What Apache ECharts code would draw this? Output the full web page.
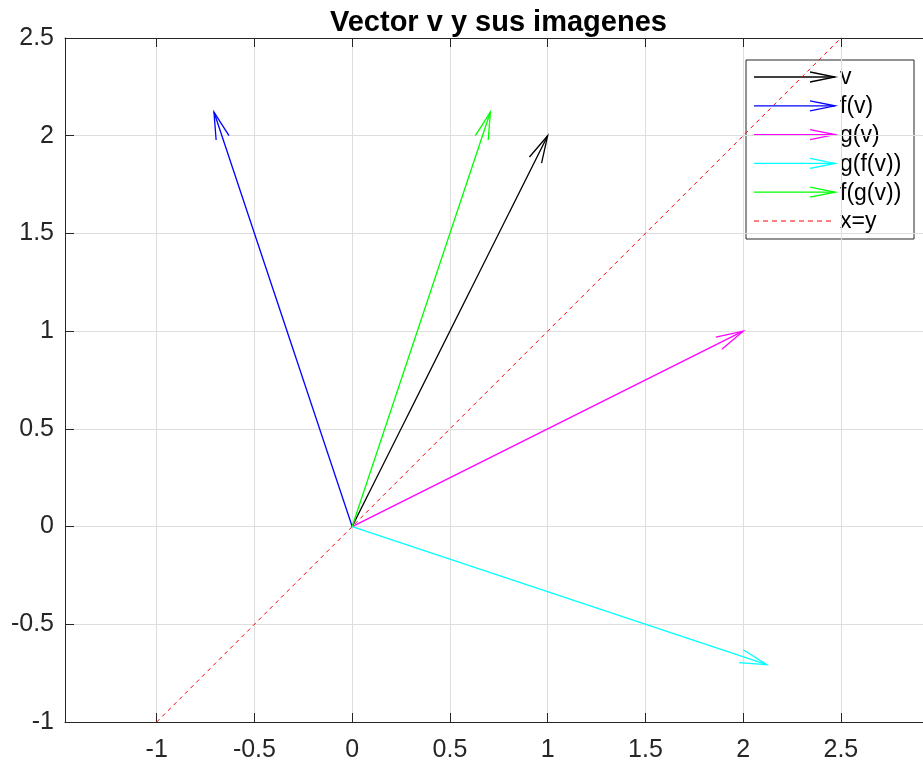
<!DOCTYPE html>
<html><head><meta charset="utf-8">
<script src="https://cdn.jsdelivr.net/npm/echarts@6/dist/echarts.min.js"></script>
<style>html,body{margin:0;padding:0;background:#fff}#c{width:923px;height:763px}</style>
</head><body><div id="c"></div>
<script>
// ---- data ----
const titleText = 'Vector v y sus imagenes';
const vectorNames = ['v', 'f(v)', 'g(v)', 'g(f(v))', 'f(g(v))'];
const vectorX = [1, -0.707, 2, 2.121, 0.707];
const vectorY = [2, 2.121, 1, -0.707, 2.121];
const diagName = 'x=y';
const diagX = [-1, 3];
const diagY = [-1, 3];
const xTicks = [-1, -0.5, 0, 0.5, 1, 1.5, 2, 2.5];
const yTicks = [-1, -0.5, 0, 0.5, 1, 1.5, 2, 2.5];

// ---- styles ----
const vectorColors = ['#000000', '#0000ff', '#ff00ff', '#00ffff', '#00ff00'];
const diagColor = '#ff0000';
const FONT = '"Liberation Sans", Arial, Helvetica, sans-serif';
const axisColor = '#262626';
const gridColor = '#dedede';

const chart = echarts.init(document.getElementById('c'), null, {renderer: 'canvas'});

function arrowItem(color) {
  return function (params, api) {
    const o = api.coord([0, 0]);
    const t = api.coord([api.value(0), api.value(1)]);
    const dx = o[0] - t[0], dy = o[1] - t[1];
    const L = Math.hypot(dx, dy);
    const ux = dx / L, uy = dy / L;
    const hl = 28, ang = 14 * Math.PI / 180;
    const c = Math.cos(ang), s = Math.sin(ang);
    const b1 = [t[0] + hl * (ux * c - uy * s), t[1] + hl * (ux * s + uy * c)];
    const b2 = [t[0] + hl * (ux * c + uy * s), t[1] + hl * (-ux * s + uy * c)];
    return {
      type: 'group',
      children: [
        {type: 'line', shape: {x1: o[0], y1: o[1], x2: t[0], y2: t[1]}, style: {stroke: color, lineWidth: 1.3}},
        {type: 'polyline', shape: {points: [b1, t, b2]}, style: {stroke: color, fill: null, lineWidth: 1.3}}
      ]
    };
  };
}

const series = [{
  name: diagName,
  type: 'line',
  data: diagX.map((x, i) => [x, diagY[i]]),
  showSymbol: false,
  clip: true,
  silent: true,
  lineStyle: {color: diagColor, width: 1, type: [4, 4]},
  z: 2
}];
vectorNames.forEach((n, i) => {
  series.push({
    name: n,
    type: 'custom',
    data: [[vectorX[i], vectorY[i]]],
    renderItem: arrowItem(vectorColors[i]),
    silent: true,
    z: 3
  });
});

// legend built as graphic (open-arrow icons)
const legX = 746, legY = 60, legW = 168, legH = 179, rowH = 28.8, row0 = 77;
const legendEls = [{
  type: 'rect', shape: {x: legX, y: legY, width: legW, height: legH},
  style: {fill: '#ffffff', stroke: axisColor, lineWidth: 1}
}];
const legNames = vectorNames.concat([diagName]);
legNames.forEach((n, i) => {
  const y = row0 + i * rowH;
  if (i < vectorNames.length) {
    const col = vectorColors[i];
    legendEls.push({type: 'line', shape: {x1: 754, y1: y, x2: 835, y2: y}, style: {stroke: col, lineWidth: 1.3}});
    legendEls.push({type: 'polyline', shape: {points: [[810, y - 5], [835, y], [810, y + 5]]}, style: {stroke: col, fill: null, lineWidth: 1.3}});
  } else {
    legendEls.push({type: 'line', shape: {x1: 754, y1: y, x2: 835, y2: y}, style: {stroke: diagColor, lineWidth: 1, lineDash: [5, 4]}});
  }
  legendEls.push({type: 'text', x: 840, y: y + 1, style: {text: n, fontSize: 23, fontFamily: FONT, fill: '#000', verticalAlign: 'middle', align: 'left'}});
});

const option = {
  backgroundColor: '#ffffff',
  animation: false,
  title: {
    text: titleText, left: 330, top: 8, padding: 0,
    textStyle: {fontSize: 29, fontWeight: 'bold', color: '#000', fontFamily: FONT}
  },
  grid: {left: 65, top: 38, right: 0, bottom: 41, containLabel: false},
  xAxis: [{
    type: 'value', position: 'bottom', min: -1.469, max: 2.92,
    axisLine: {show: true, onZero: false, lineStyle: {color: axisColor, width: 1}},
    axisTick: {show: true, inside: true, length: 9, customValues: xTicks, lineStyle: {color: axisColor}},
    axisLabel: {show: true, customValues: xTicks, fontSize: 25, color: axisColor, fontFamily: FONT, margin: 16},
    splitLine: {show: true, lineStyle: {color: gridColor, width: 1}}
  }, {
    type: 'value', position: 'top', min: -1.469, max: 2.92,
    axisLine: {show: true, onZero: false, lineStyle: {color: axisColor, width: 1}},
    axisTick: {show: true, inside: true, length: 9, customValues: xTicks, lineStyle: {color: axisColor}},
    axisLabel: {show: false},
    splitLine: {show: false}
  }],
  yAxis: [{
    type: 'value', position: 'left', min: -1, max: 2.5, interval: 0.5,
    axisLine: {show: true, onZero: false, lineStyle: {color: axisColor, width: 1}},
    axisTick: {show: true, inside: true, length: 9, customValues: yTicks, lineStyle: {color: axisColor}},
    axisLabel: {show: true, customValues: yTicks, fontSize: 25, color: axisColor, fontFamily: FONT, margin: 11},
    splitLine: {show: true, lineStyle: {color: gridColor, width: 1}}
  }],
  series: series,
  graphic: {elements: [{type: 'group', z: 100, children: legendEls}]}
};
chart.setOption(option);
</script>
</body></html>
